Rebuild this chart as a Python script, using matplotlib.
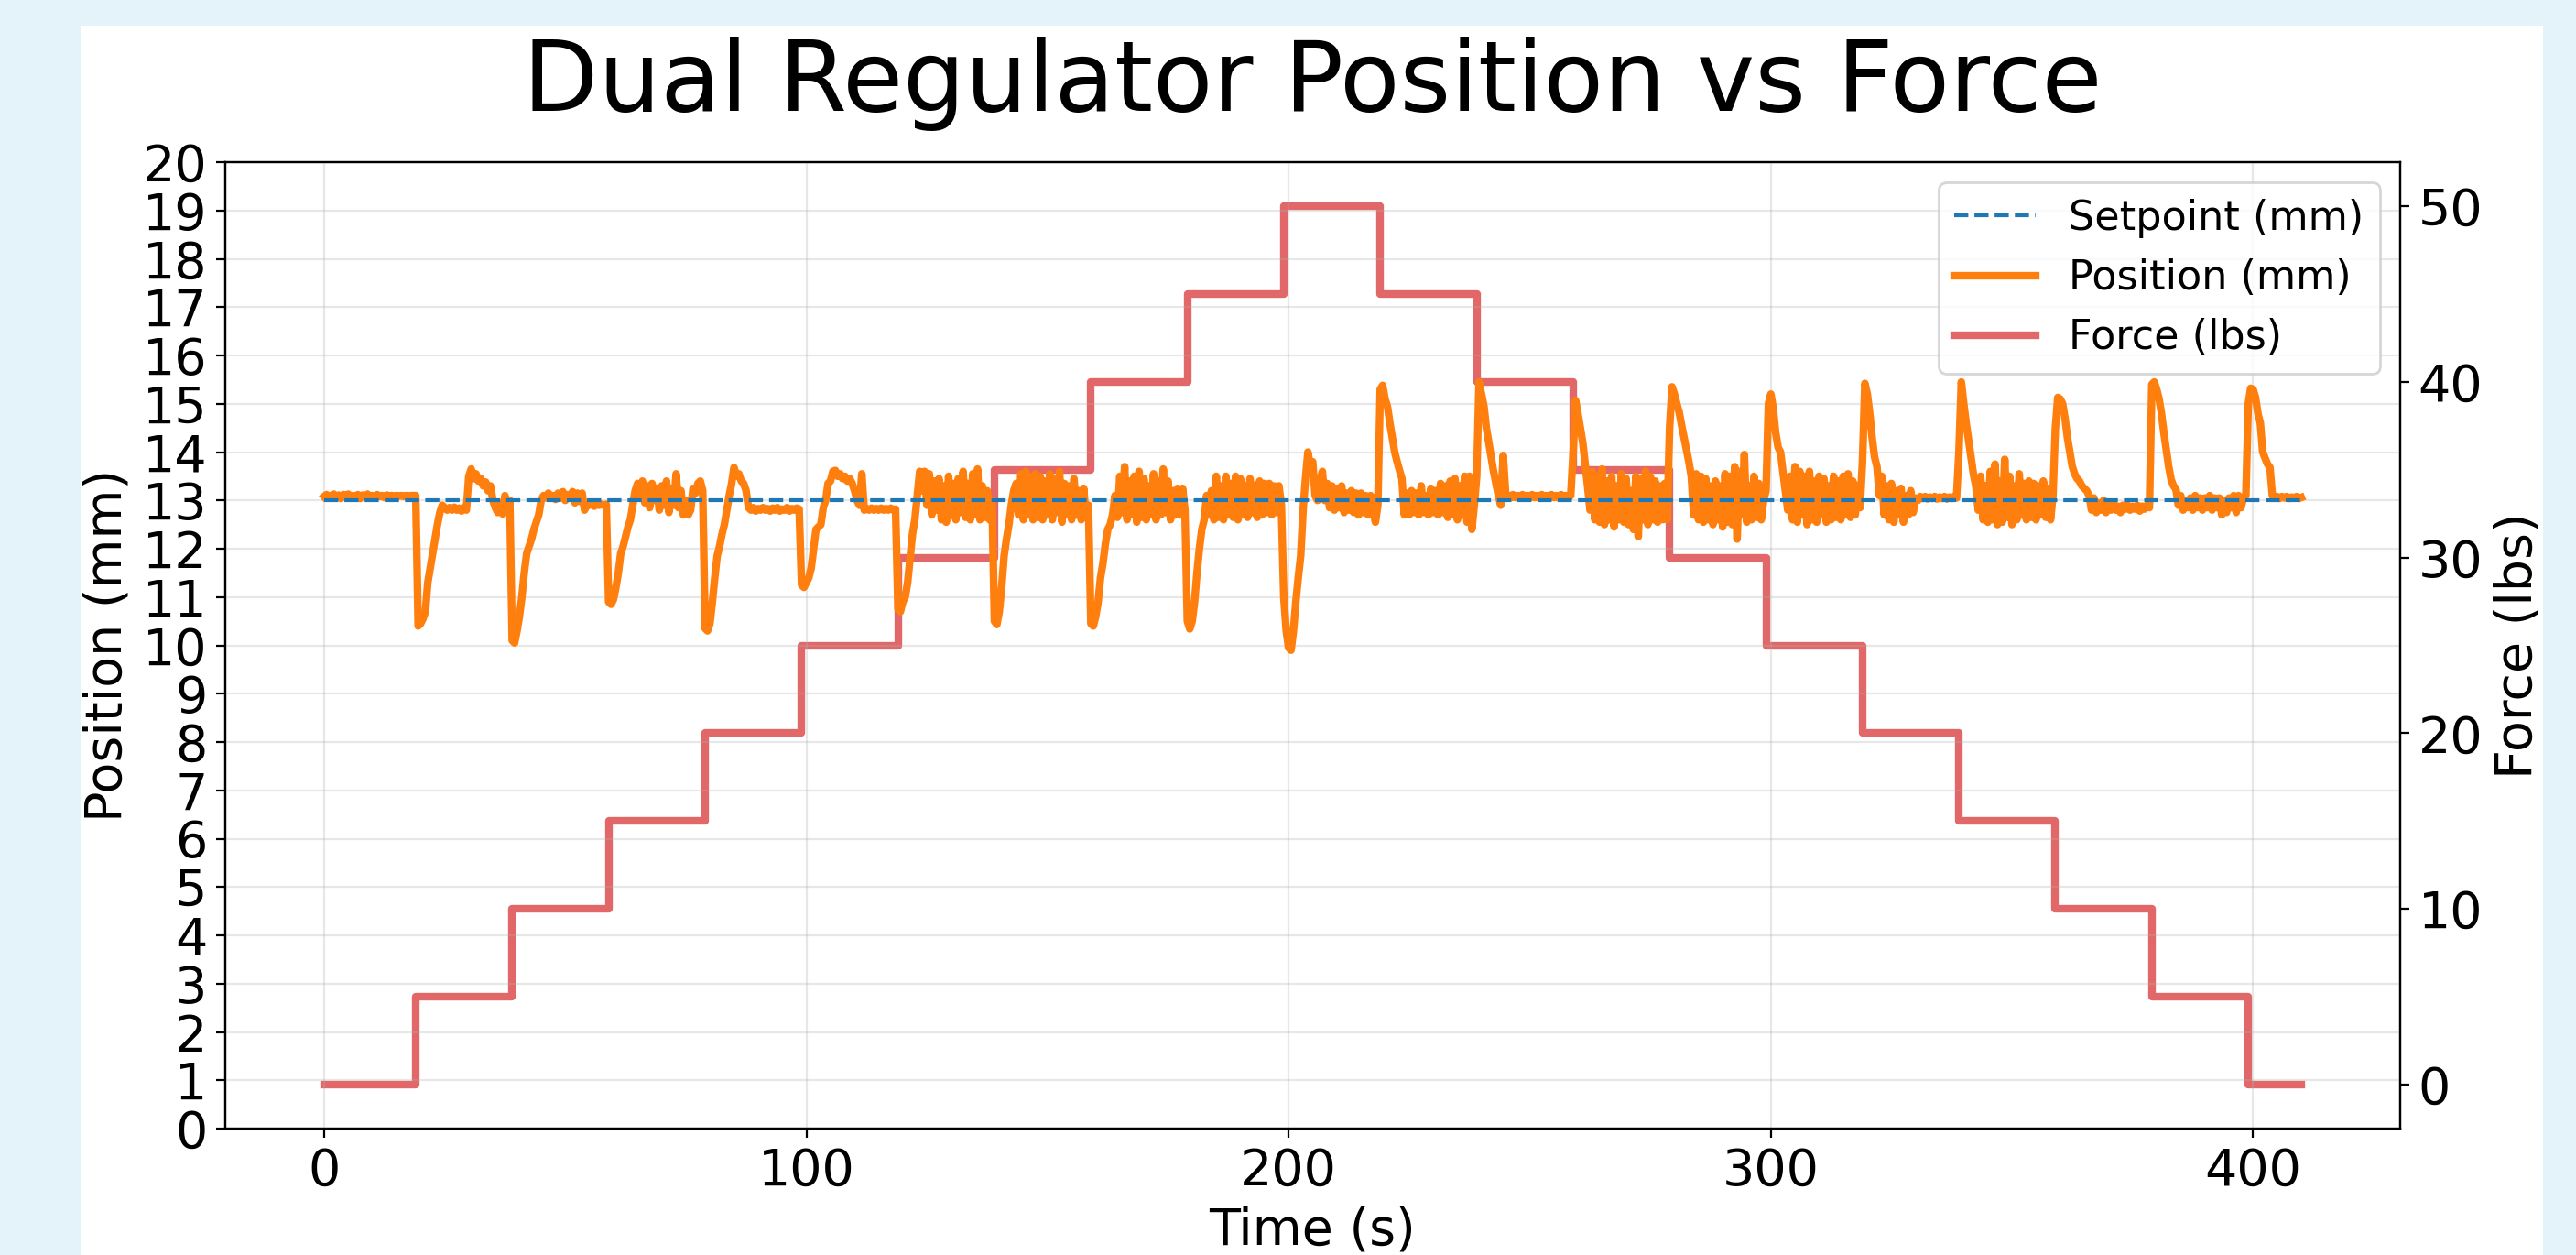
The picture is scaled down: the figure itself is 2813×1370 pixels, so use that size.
import numpy as np
import matplotlib
matplotlib.use("Agg")
import matplotlib.pyplot as plt
from matplotlib.patches import Rectangle

# ---------------- data ----------------
SETPOINT_MM = 13.0
SAMPLE_DT = 0.5

force_times = [0, 19, 39, 59, 79, 99, 119, 139, 159, 179, 199,
               219, 239, 259, 279, 299, 319, 339, 359, 379, 399, 410]
force_lbs = [0, 5, 10, 15, 20, 25, 30, 35, 40, 45, 50,
             45, 40, 35, 30, 25, 20, 15, 10, 5, 0, 0]

# position chunks: (start time, samples every 0.5 s)
pos_c00 = (0, [13.08, 13.12, 13.05, 13.10, 13.13, 13.06, 13.11, 13.04, 13.12, 13.08,
               13.13, 13.05, 13.10, 13.07, 13.12, 13.04, 13.11, 13.08, 13.13, 13.06,
               13.10, 13.05, 13.12, 13.08, 13.10, 13.06, 13.11, 13.09, 13.10, 13.08,
               13.10, 13.09, 13.10, 13.08, 13.10, 13.09, 13.10, 13.10])
pos_c01 = (19, [13.10, 10.40, 10.45, 10.55, 10.70, 11.30, 11.60, 11.90, 12.20, 12.50,
                12.75, 12.90, 12.85, 12.80, 12.85, 12.80, 12.86, 12.80, 12.84, 12.78,
                12.86, 12.80, 13.50, 13.65, 13.45, 13.55, 13.40, 13.45, 13.30, 13.38,
                13.20, 13.30, 13.00, 12.85, 12.75, 12.95, 12.72, 13.10, 12.75, 13.00])
pos_c02 = (39, [10.10, 10.05, 10.30, 10.60, 11.00, 11.50, 11.90, 12.05, 12.20, 12.40,
                12.55, 12.70, 13.00, 13.10, 13.05, 13.15, 13.08, 13.10, 13.02, 13.15,
                13.05, 13.18, 13.00, 13.12, 13.05, 13.18, 12.95, 13.15, 12.98, 13.15,
                12.80, 12.92, 12.90, 12.93, 12.88, 12.92, 12.90, 12.92, 12.90, 12.92])
pos_c03 = (59, [10.90, 10.85, 10.95, 11.20, 11.50, 11.90, 12.05, 12.25, 12.45, 12.60,
                12.90, 13.20, 13.35, 13.10, 13.40, 12.95, 13.30, 12.85, 13.35, 13.00,
                13.25, 12.80, 13.30, 12.90, 13.40, 12.75, 13.25, 12.90, 13.55, 12.85,
                13.20, 12.70, 13.00, 12.70, 12.80, 13.25, 13.15, 13.35, 13.40, 13.20])
pos_c04 = (79, [10.35, 10.30, 10.45, 10.90, 11.40, 11.85, 12.05, 12.30, 12.50, 12.80,
                13.10, 13.35, 13.68, 13.50, 13.55, 13.40, 13.35, 13.20, 12.85, 12.80,
                12.85, 12.78, 12.83, 12.80, 12.85, 12.80, 12.83, 12.78, 12.84, 12.80,
                12.85, 12.78, 12.82, 12.80, 12.85, 12.78, 12.83, 12.80, 12.84, 12.82])
pos_c05 = (99, [11.25, 11.20, 11.30, 11.40, 11.60, 12.00, 12.40, 12.45, 12.50, 12.85,
                13.00, 13.35, 13.40, 13.60, 13.62, 13.50, 13.55, 13.45, 13.50, 13.40,
                13.45, 13.35, 13.20, 13.00, 12.90, 13.55, 12.80, 12.83, 12.80, 12.84,
                12.80, 12.83, 12.80, 12.84, 12.80, 12.83, 12.80, 12.84, 12.80, 12.82])
pos_c06 = (119, [10.75, 10.70, 10.90, 11.00, 11.30, 11.80, 12.30, 12.60, 13.10, 13.60,
                 13.20, 13.60, 12.90, 13.55, 12.70, 13.40, 12.80, 13.45, 12.60, 13.30,
                 12.55, 13.50, 12.70, 13.35, 12.60, 13.45, 12.75, 13.60, 12.65, 13.35,
                 12.60, 13.55, 12.70, 13.65, 12.60, 13.30, 12.65, 13.20, 12.60, 13.00])
pos_c07 = (139, [10.50, 10.43, 10.70, 11.20, 11.85, 12.20, 12.50, 12.90, 13.20, 13.35,
                 12.70, 13.55, 12.60, 13.60, 12.70, 13.50, 12.60, 13.55, 12.65, 13.50,
                 12.60, 13.40, 12.70, 13.55, 12.60, 13.45, 12.75, 13.60, 12.55, 13.35,
                 12.70, 13.30, 12.60, 13.45, 12.70, 13.20, 12.60, 13.25, 12.65, 12.90])
pos_c08 = (159, [10.45, 10.40, 10.60, 10.90, 11.40, 11.70, 12.10, 12.40, 12.50, 12.70,
                 13.10, 12.65, 13.50, 12.75, 13.70, 12.60, 13.40, 12.70, 13.50, 12.55,
                 13.60, 12.65, 13.45, 12.60, 13.30, 12.70, 13.55, 12.60, 13.40, 12.70,
                 13.65, 12.75, 13.40, 12.60, 13.20, 12.70, 13.25, 12.70, 13.25, 12.80])
pos_c09 = (179, [10.50, 10.34, 10.50, 10.90, 11.50, 12.00, 12.40, 12.60, 13.10, 12.70,
                 13.20, 12.60, 13.50, 12.65, 13.30, 12.60, 13.50, 12.70, 13.35, 12.65,
                 13.50, 12.60, 13.45, 12.70, 13.30, 12.65, 13.45, 12.75, 13.30, 12.65,
                 13.40, 12.70, 13.35, 12.75, 13.35, 12.70, 13.30, 12.75, 13.30, 12.90])
pos_c10 = (199, [11.00, 10.30, 9.95, 9.90, 10.30, 10.90, 11.40, 11.85, 12.80, 13.45,
                 14.00, 13.70, 13.80, 13.10, 13.00, 13.40, 13.60, 13.00, 13.35, 12.85,
                 13.30, 12.80, 13.25, 12.85, 13.30, 12.75, 13.15, 12.80, 13.20, 12.75,
                 13.15, 12.70, 13.15, 12.75, 13.10, 12.70, 13.10, 12.80, 12.55, 12.90])
pos_c11 = (219, [15.30, 15.38, 15.10, 14.94, 14.60, 14.30, 14.00, 13.80, 13.62, 13.45,
                 12.70, 13.15, 12.70, 13.20, 12.75, 13.15, 12.70, 13.30, 12.75, 13.10,
                 12.70, 13.25, 12.75, 13.20, 12.70, 13.35, 12.75, 13.30, 12.65, 13.40,
                 12.70, 13.45, 12.60, 13.30, 12.70, 13.50, 12.55, 13.50, 12.40, 12.90])
pos_c12 = (239, [13.50, 15.45, 15.20, 14.95, 14.50, 14.20, 13.90, 13.60, 13.35, 13.10,
                 12.90, 13.93, 13.15, 13.10, 13.05, 13.12, 13.06, 13.10, 13.05, 13.12,
                 13.06, 13.10, 13.05, 13.12, 13.06, 13.10, 13.05, 13.12, 13.06, 13.10,
                 13.05, 13.12, 13.06, 13.10, 13.05, 13.12, 13.06, 13.10, 13.05, 13.10])
pos_c13 = (259, [14.00, 15.07, 14.80, 14.50, 14.19, 13.74, 13.30, 12.80, 13.60, 12.60,
                 13.50, 12.55, 13.65, 12.50, 13.40, 12.60, 13.50, 12.45, 13.30, 12.60,
                 13.55, 12.55, 13.45, 12.50, 13.20, 12.40, 13.50, 12.25, 13.45, 12.60,
                 13.60, 12.50, 13.50, 12.60, 13.40, 12.55, 13.30, 12.60, 13.35, 12.60])
pos_c14 = (279, [14.50, 15.35, 15.20, 15.00, 14.82, 14.55, 14.30, 14.06, 13.80, 13.50,
                 12.70, 13.55, 12.60, 13.50, 12.55, 13.45, 12.60, 13.30, 12.50, 13.40,
                 12.60, 13.30, 12.45, 13.55, 12.55, 13.50, 12.50, 13.70, 12.20, 13.60,
                 12.70, 13.95, 12.55, 13.30, 12.60, 13.50, 12.65, 13.35, 12.60, 13.00])
pos_c15 = (299, [13.20, 15.00, 15.20, 14.90, 14.40, 14.10, 14.00, 13.60, 13.20, 12.80,
                 13.50, 12.60, 13.70, 12.55, 13.60, 12.70, 13.50, 12.50, 13.60, 12.60,
                 13.40, 12.55, 13.50, 12.70, 13.45, 12.55, 13.30, 12.60, 13.50, 12.65,
                 13.40, 12.60, 13.50, 12.70, 13.55, 12.65, 13.40, 12.70, 13.30, 12.85])
pos_c16 = (319, [13.80, 15.42, 15.20, 14.80, 14.30, 13.90, 13.70, 13.10, 13.50, 12.70,
                 13.30, 12.60, 13.35, 12.55, 13.20, 12.70, 13.25, 12.55, 13.10, 12.70,
                 13.20, 12.75, 13.05, 13.00, 13.08, 13.04, 13.08, 13.03, 13.07, 13.04,
                 13.08, 13.03, 13.07, 13.04, 13.08, 13.03, 13.07, 13.04, 13.08, 13.05])
pos_c17 = (339, [14.00, 15.45, 15.00, 14.60, 14.25, 13.90, 13.55, 13.30, 12.80, 13.50,
                 12.60, 13.30, 12.55, 13.60, 12.60, 13.75, 12.50, 13.40, 12.55, 13.85,
                 12.65, 13.50, 12.50, 13.30, 12.60, 13.55, 12.70, 13.35, 12.60, 13.40,
                 12.65, 13.35, 12.60, 13.30, 12.70, 13.40, 12.65, 13.25, 12.60, 13.10])
pos_c18 = (359, [14.50, 15.13, 15.10, 15.00, 14.70, 14.30, 14.00, 13.70, 13.55, 13.45,
                 13.40, 13.30, 13.25, 13.20, 13.10, 12.80, 13.05, 12.75, 12.95, 12.80,
                 13.00, 12.75, 12.90, 12.80, 12.95, 12.80, 12.88, 12.75, 12.90, 12.82,
                 12.90, 12.80, 12.88, 12.82, 12.90, 12.78, 12.88, 12.82, 12.90, 12.85])
pos_c19 = (379, [15.40, 15.45, 15.30, 15.10, 14.80, 14.40, 14.05, 13.70, 13.43, 13.30,
                 13.24, 12.90, 13.10, 12.80, 13.00, 12.85, 13.05, 12.80, 13.10, 12.85,
                 13.05, 12.80, 13.05, 12.85, 13.10, 12.80, 13.05, 12.85, 13.05, 12.70,
                 13.00, 12.75, 13.05, 12.85, 13.10, 12.75, 13.10, 12.85, 13.05, 13.10])
pos_c20 = (399, [15.00, 15.32, 15.30, 15.13, 14.80, 14.60, 14.00, 13.87, 13.75, 13.68,
                 13.10, 13.05, 13.08, 13.04, 13.08, 13.05, 13.08, 13.04, 13.07, 13.05,
                 13.08, 13.04, 13.06])

pos_chunks = [pos_c00, pos_c01, pos_c02, pos_c03, pos_c04, pos_c05, pos_c06,
              pos_c07, pos_c08, pos_c09, pos_c10, pos_c11, pos_c12, pos_c13,
              pos_c14, pos_c15, pos_c16, pos_c17, pos_c18, pos_c19, pos_c20]

title = "Dual Regulator Position vs Force"
x_label = "Time (s)"
y_label = "Position (mm)"
y2_label = "Force (lbs)"
x_ticks = [0, 100, 200, 300, 400]
y_ticks = list(range(0, 21))
y2_ticks = [0, 10, 20, 30, 40, 50]

# build arrays
pos_t = np.concatenate([start + SAMPLE_DT * np.arange(len(v)) for start, v in pos_chunks])
pos_mm = np.concatenate([np.asarray(v, float) for _, v in pos_chunks])

# ---------------- figure ----------------
W, H, DPI = 2813, 1370, 200
fig = plt.figure(figsize=(W / DPI, H / DPI), dpi=DPI, facecolor="#e4f2fa")
fig.add_artist(Rectangle((88 / W, 0), (2777 - 88) / W, (1370 - 28) / H,
                         transform=fig.transFigure, facecolor="white",
                         edgecolor="none", zorder=0))

left, right = 246 / W, 2621 / W
bottom, top = 1 - 1232 / H, 1 - 177 / H
ax = fig.add_axes([left, bottom, right - left, top - bottom])
ax2 = ax.twinx()
ax.set_zorder(ax2.get_zorder() + 1)
ax.patch.set_visible(False)
ax2.patch.set_facecolor("white")

l_pos, = ax.plot(pos_t, pos_mm, color="#ff7f0e", lw=3.0, label="Position (mm)")
l_set, = ax.plot([pos_t[0], pos_t[-1]], [SETPOINT_MM, SETPOINT_MM], color="#1f77b4",
                 lw=1.5, ls="--", label="Setpoint (mm)")
l_f, = ax2.plot(force_times, force_lbs, drawstyle="steps-post", color="#d62728",
                alpha=0.7, lw=3.0, label="Force (lbs)")

ax.set_ylim(0, 20)
ax.set_yticks(y_ticks)
ax.set_xticks(x_ticks)
ax2.set_yticks(y2_ticks)
ax.grid(True, alpha=0.3)

ax.tick_params(labelsize=20)
ax2.tick_params(labelsize=20)
ax.set_xlabel(x_label, fontsize=20, labelpad=4)
ax.set_ylabel(y_label, fontsize=20)
ax2.set_ylabel(y2_label, fontsize=20)
ax.set_title(title, fontsize=38.5, pad=20)

ax.legend([l_set, l_pos, l_f], ["Setpoint (mm)", "Position (mm)", "Force (lbs)"],
          loc="upper right", fontsize=16)

fig.savefig("out.png", dpi=DPI, facecolor=fig.get_facecolor())
